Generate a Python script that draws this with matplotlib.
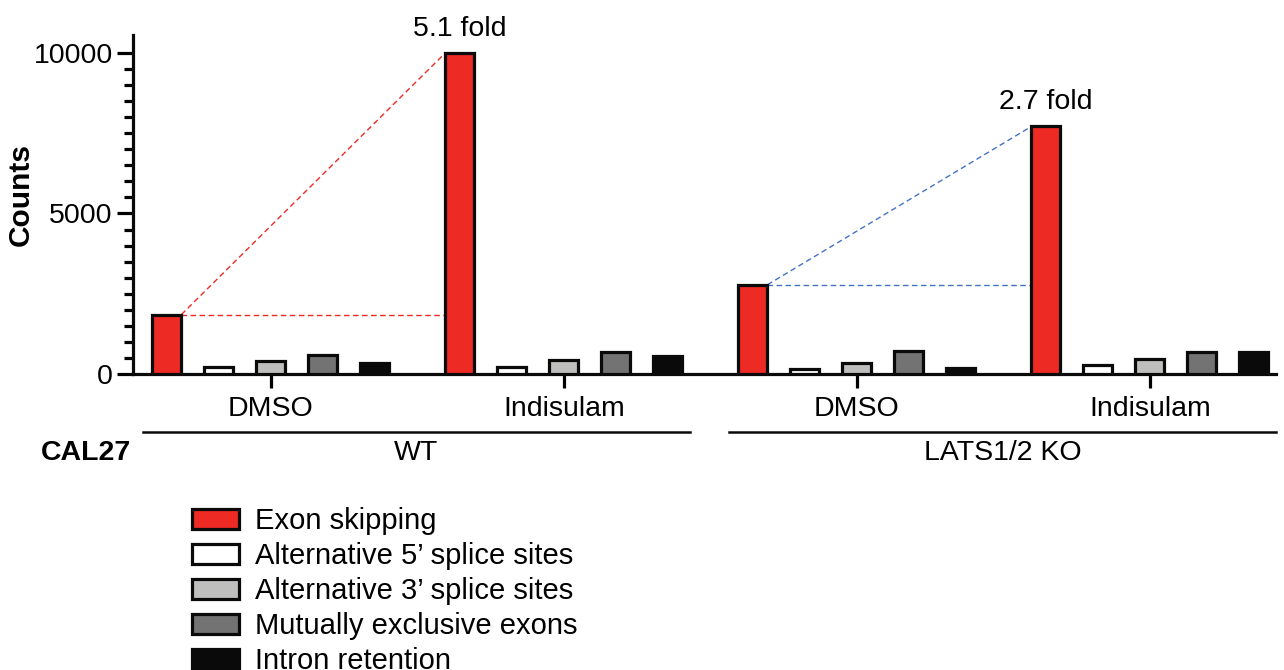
import numpy as np
import matplotlib.pyplot as plt
import matplotlib.transforms as mtransforms

plt.rcParams['font.family'] = ['Liberation Sans', 'DejaVu Sans']

# data
categories = ['Exon skipping', 'Alternative 5\u2019 splice sites', 'Alternative 3\u2019 splice sites',
              'Mutually exclusive exons', 'Intron retention']
treatments = ['DMSO', 'Indisulam', 'DMSO', 'Indisulam']
cell_lines = ['WT', 'LATS1/2 KO']
exon_skipping = [1850, 10000, 2780, 7710]
alt5 = [230, 230, 150, 290]
alt3 = [420, 450, 350, 480]
mutually_exclusive = [600, 700, 730, 700]
intron_retention = [350, 570, 200, 670]
fold_labels = ['5.1 fold', '2.7 fold']

series = [exon_skipping, alt5, alt3, mutually_exclusive, intron_retention]
colors = ['#EE2A24', '#FFFFFF', '#BFBFBD', '#737373', '#0A0A0A']
line_colors = ['#EE2A24', '#4472C4']

fs = 20.5

fig = plt.figure(figsize=(12.84, 6.70), dpi=100)
ax = fig.add_axes([133 / 1284, 296 / 670, 1143 / 1284, 339 / 670])

group_centers = np.arange(len(treatments)) * 5.635
width = 0.56
edge = '#0A0A0A'
lw = 2.3

for i, (vals, col, lab) in enumerate(zip(series, colors, categories)):
    ax.bar(group_centers + (i - 2), vals, width=width, color=col, edgecolor=edge,
           linewidth=lw, label=lab, zorder=3)

# fold-change guide lines
for k in range(2):
    d, t = 2 * k, 2 * k + 1
    x0 = group_centers[d] - 2 + width / 2
    x1 = group_centers[t] - 2 - width / 2
    y0, y1 = exon_skipping[d], exon_skipping[t]
    ax.plot([x0, x1], [y0, y1], ls=(0, (4, 2.5)), color=line_colors[k], lw=1, zorder=2)
    ax.plot([x0, x1], [y0, y0], ls=(0, (4, 2.5)), color=line_colors[k], lw=1, zorder=2)
    ax.annotate(fold_labels[k], (group_centers[t] - 2, y1), xytext=(0, 8),
                textcoords='offset points', ha='center', va='bottom', fontsize=fs)

ax.set_xlim(-2.65, 19.33)
ax.set_ylim(0, 10560)
ax.set_yticks([0, 5000, 10000])
ax.set_yticks(np.arange(500, 10500, 500), minor=True)
ax.set_xticks(group_centers)
ax.set_xticklabels(treatments)
ax.tick_params(axis='y', which='major', length=11.5, width=2.3, labelsize=fs, pad=3)
ax.tick_params(axis='y', which='minor', length=6.5, width=2.3)
ax.tick_params(axis='x', which='major', length=10, width=2.3, labelsize=fs, pad=6)

for s in ['top', 'right']:
    ax.spines[s].set_visible(False)
for s in ['left', 'bottom']:
    ax.spines[s].set_linewidth(2.3)
    ax.spines[s].set_color(edge)

ax.set_ylabel('Counts', fontsize=21.5, fontweight='bold')
ax.yaxis.set_label_coords(-0.086, 0.53)

# cell line grouping under the axis
trans = mtransforms.blended_transform_factory(ax.transData, ax.transAxes)
for k, name in enumerate(cell_lines):
    xa = group_centers[2 * k] - 2 - 0.46
    xb = group_centers[2 * k + 1] + 2 + 0.42
    ax.plot([xa, xb], [-0.171, -0.171], color=edge, lw=1.8, transform=trans, clip_on=False)
    ax.text((xa + xb) / 2, -0.232, name, transform=trans, ha='center', va='center', fontsize=fs)
ax.text(-0.002, -0.232, 'CAL27', transform=ax.transAxes, ha='right', va='center',
        fontsize=fs, fontweight='bold')

fig.legend(loc='upper left', bbox_to_anchor=(192 / 1284, 1 - 507 / 670), frameon=False,
           fontsize=21, handlelength=1.6, handleheight=0.7, handletextpad=0.55,
           labelspacing=0.24, borderpad=0, borderaxespad=0)

fig.savefig('out.png', dpi=100)
